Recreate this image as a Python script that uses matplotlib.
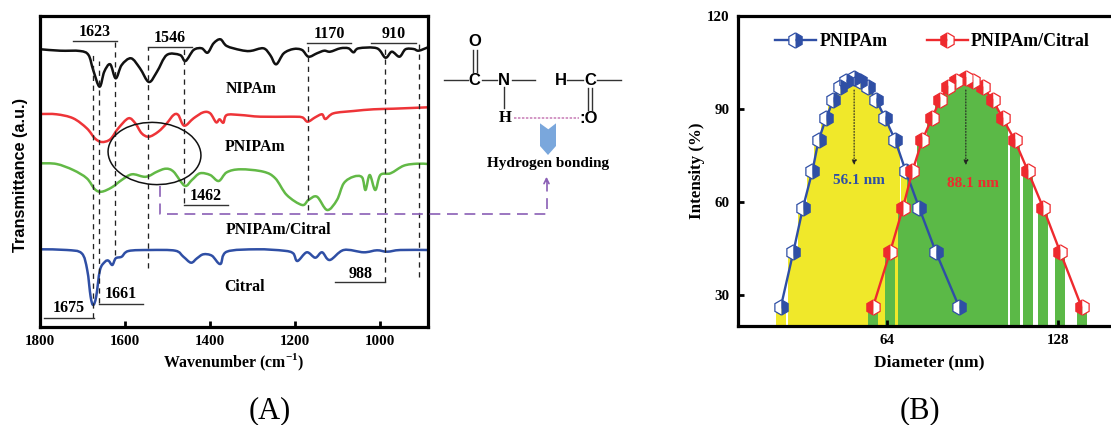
"""
FTIR spectra and size distribution panels, NIPAm / PNIPAm / Citral
"""
import matplotlib
matplotlib.use('Agg')
import matplotlib.pyplot as plt
from matplotlib.patches import Ellipse, PathPatch, Polygon
from matplotlib.path import Path
from matplotlib.ticker import NullLocator, ScalarFormatter

W, H = 1111, 425
SERIF = 'Liberation Serif'
SANS = 'Liberation Sans'

plt.rcParams['font.family'] = SERIF
plt.rcParams['font.weight'] = 'bold'
plt.rcParams['mathtext.fontset'] = 'custom'
plt.rcParams['mathtext.bf'] = 'Liberation Serif:bold'

# panel A, wavenumber / relative transmittance
black_wn = [1798, 1753, 1706, 1686, 1675, 1660, 1649, 1635, 1622, 1608, 1586, 1565, 1544, 1525, 1502, 1471,
            1458, 1439, 1420, 1406, 1392, 1376, 1361, 1329, 1306, 1275, 1259, 1245, 1227, 1204, 1184, 1169,
            1149, 1132, 1118, 1094, 1075, 1063, 1051, 1008, 988, 973, 955, 941, 922, 910, 888]
black_t = [277.7, 276.3, 276, 272, 257, 240.3, 255.3, 262.7, 248.7, 262, 268.7, 258.7, 245, 255.3, 272, 272,
           266, 277, 278.7, 274.3, 283.7, 287.7, 281, 277, 276, 278.7, 272, 262.7, 273.7, 278, 277, 270.3,
           273.7, 276.3, 275.3, 278.7, 278.7, 274.7, 278.7, 278.7, 269.3, 275.3, 270.3, 277.7, 278, 276.3, 279.7]

red_wn = [1798, 1761, 1722, 1690, 1671, 1655, 1635, 1616, 1592, 1576, 1561, 1544, 1522, 1502, 1486, 1475,
          1461, 1439, 1416, 1400, 1386, 1378, 1369, 1361, 1329, 1282, 1212, 1184, 1171, 1153, 1137, 1129,
          1110, 1063, 1016, 969, 888]
red_t = [213, 212.7, 208.7, 198.7, 188.7, 185, 187.7, 198.7, 208.7, 203.7, 193.7, 190.3, 195.3, 203.7, 212, 212,
         201.3, 208.7, 214.7, 213.7, 204.7, 207.7, 204.3, 212, 212, 210.3, 210.3, 209.7, 205.3, 209.7, 212.7, 208,
         213.7, 216, 217.7, 218.3, 219.7]

green_wn = [1798, 1761, 1722, 1690, 1671, 1655, 1631, 1608, 1584, 1557, 1544, 1525, 1504, 1486, 1460, 1443,
            1424, 1400, 1380, 1361, 1329, 1275, 1247, 1220, 1184, 1169, 1149, 1125, 1102, 1086, 1063, 1043,
            1035, 1025, 1012, 1000, 976, 945, 914, 888]
green_t = [163.7, 163, 157, 148.7, 137.7, 135.3, 139.7, 147, 152.7, 150.3, 151, 155.3, 158.3, 155.3, 141.3, 147,
           153.7, 152, 146, 154.7, 157.7, 155.3, 148.7, 132, 122, 127, 130.3, 117, 127, 143.7, 150.3, 149.7,
           137, 152, 137, 152, 153.7, 161.3, 163.3, 163]

blue_wn = [1798, 1737, 1702, 1689, 1681, 1675, 1668, 1659, 1647, 1639, 1630, 1622, 1608, 1592, 1541, 1482,
           1463, 1445, 1431, 1416, 1396, 1376, 1361, 1290, 1227, 1205, 1195, 1173, 1153, 1137, 1119, 1086,
           1039, 1008, 984, 953, 888]
blue_t = [77.7, 77, 73.7, 57, 30.3, 22, 30.3, 57, 65.3, 66.3, 62, 68.7, 70.3, 76, 77, 76.3,
          70.3, 64.3, 68.7, 72.7, 71.3, 63, 75.3, 77.7, 76.3, 73.7, 66, 74.7, 69.3, 74.7, 67, 77,
          74.7, 76.7, 75.3, 77, 77]

peak_wn = [1675, 1661, 1623, 1546, 1462, 1170, 988, 910]
peak_top = [274, 266, 285, 280, 280, 284, 279, 284]
peak_bottom = [9, 24, 72, 59, 124, 117, 45, 50]

# label, bracket start, bracket end, bracket height, label centre height
bracket_labels = ['1623', '1546', '1170', '910', '1462', '988', '1661', '1675']
bracket_from = [1722, 1546, 1172, 1022, 1462, 1106, 1661, 1790]
bracket_to = [1620, 1443, 1068, 917, 1358, 988, 1558, 1674]
bracket_y = [286, 280, 284, 284, 122, 45, 23.5, 9]
label_y = [295, 289, 293, 293, 131, 53, 32.5, 19]

# panel B, diameter (nm) / intensity (%)
pnipam_d = [41.7, 43.9, 45.6, 47.4, 48.6, 50.1, 51.6, 53.0, 54.3, 56.1, 57.5, 59.4, 61.3, 63.6, 66.2, 69.1, 73.0, 78.0, 85.8]
citral_d = [60.5, 64.9, 68.3, 71.0, 73.9, 76.8, 79.4, 82.1, 84.7, 88.1, 90.8, 94.3, 98.2, 102.2, 107.3, 113.2, 120.5, 128.9, 140.7]
intensity = [26, 44, 58, 70, 80, 87, 93, 97, 99, 100, 99, 97, 93, 87, 80, 70, 58, 44, 26]


def axes_at(fig, left, top, right, bottom):
    """Axes placed by pixel edges, y counted from the top of the image"""
    return fig.add_axes([left / W, 1 - bottom / H, (right - left) / W, (bottom - top) / H])


def style_frame(ax):
    for spine in ax.spines.values():
        spine.set_linewidth(2.3)
    ax.tick_params(axis='both', direction='in', width=2, length=4.5, labelsize=10.8, pad=6)
    for lab in ax.get_xticklabels() + ax.get_yticklabels():
        lab.set_fontweight('bold')


def add_spectrum(ax, xs, ys, color):
    """Draw a trace as a bezier path through the read points, the spectra are not polygons"""
    verts = [(xs[0], ys[0])]
    codes = [Path.MOVETO]
    for i in range(len(xs) - 1):
        p0 = max(i - 1, 0)
        p3 = min(i + 2, len(xs) - 1)
        verts.append((xs[i] + (xs[i + 1] - xs[p0]) / 6, ys[i] + (ys[i + 1] - ys[p0]) / 6))
        verts.append((xs[i + 1] - (xs[p3] - xs[i]) / 6, ys[i + 1] - (ys[p3] - ys[i]) / 6))
        verts.append((xs[i + 1], ys[i + 1]))
        codes += [Path.CURVE4, Path.CURVE4, Path.CURVE4]
    ax.add_patch(PathPatch(Path(verts, codes), fill=False, ec=color, lw=1.8, joinstyle='round', capstyle='round'))


def plot_spectra(ax):
    add_spectrum(ax, black_wn, black_t, '#111111')
    add_spectrum(ax, red_wn, red_t, '#ee3438')
    add_spectrum(ax, green_wn, green_t, '#62b946')
    add_spectrum(ax, blue_wn, blue_t, '#2f4fa5')

    ax.vlines(peak_wn, peak_bottom, peak_top, color='#222222', lw=0.95, linestyles=(0, (4, 3.5)))

    for name, x0, x1, yb, yl in zip(bracket_labels, bracket_from, bracket_to, bracket_y, label_y):
        ax.plot([x0, x1], [yb, yb], color='#333333', lw=1)
        ax.text((x0 + x1) / 2, yl, name, ha='center', va='center', fontsize=11.5, fontweight='bold')

    ax.text(1304, 237.7, 'NIPAm', ha='center', va='center', fontsize=11.4, fontweight='bold')
    ax.text(1294, 180.3, 'PNIPAm', ha='center', va='center', fontsize=11.4, fontweight='bold')
    ax.text(1239, 97, 'PNIPAm/Citral', ha='center', va='center', fontsize=11.4, fontweight='bold')
    ax.text(1320, 39.7, 'Citral', ha='center', va='center', fontsize=11.4, fontweight='bold')

    ax.set_xlim(1800, 888)
    ax.set_ylim(0, 311)
    ax.set_xticks([1800, 1600, 1400, 1200, 1000])
    ax.set_yticks([])
    ax.set_xlabel('Wavenumber (cm$^{\\mathbf{-1}}$)', fontsize=11.4, fontweight='bold', labelpad=2.5)
    ax.set_ylabel('Transmittance (a.u.)', fontsize=11.7, fontweight='bold', family=SANS)
    ax.yaxis.set_label_coords(-0.031, 0.489)
    style_frame(ax)


def plot_sizes(ax):
    ax.set_xscale('log', base=2)
    half = 2 ** (5 / 171.6)

    ax.bar([d / half for d in pnipam_d], intensity, width=[d * half - d / half for d in pnipam_d],
           align='edge', color='#f0e82a', linewidth=0)
    ax.bar([d / half for d in citral_d], intensity, width=[d * half - d / half for d in citral_d],
           align='edge', color='#5bb947', linewidth=0)

    ax.plot(pnipam_d, intensity, color='#2f4fa5', lw=1.7, marker='h', ms=11, fillstyle='left',
            mfc='white', mfcalt='#2f4fa5', mec='#2f4fa5', mew=0.9, label='PNIPAm')
    ax.plot(citral_d, intensity, color='#ee2a2e', lw=1.7, marker='h', ms=11, fillstyle='left',
            mfc='#ee2a2e', mfcalt='white', mec='#ee2a2e', mew=0.9, label='PNIPAm/Citral')

    for d, color, name, tx, ty in [(56.1, '#2f4fa5', '56.1 nm', 57.1, 66.8),
                                   (88.1, '#ee2a2e', '88.1 nm', 90.7, 66.1)]:
        ax.annotate('', xy=(d, 71), xytext=(d, 97),
                    arrowprops=dict(arrowstyle='-|>', color='#222222', lw=0.8, ls=':', mutation_scale=7))
        ax.text(tx, ty, name, color=color, ha='center', va='center', fontsize=11, fontweight='bold')

    ax.set_xlim(35.05, 161.6)
    ax.set_ylim(20, 120)
    ax.set_xticks([64, 128])
    ax.xaxis.set_major_formatter(ScalarFormatter())
    ax.xaxis.set_minor_locator(NullLocator())
    ax.set_yticks([30, 60, 90, 120])
    ax.set_xlabel('Diameter (nm)', fontsize=12.6, fontweight='bold', labelpad=5, x=0.5065)
    ax.set_ylabel('Intensity (%)', fontsize=12.2, fontweight='bold', labelpad=1.5)
    style_frame(ax)
    ax.legend(loc='upper left', bbox_to_anchor=(0.098, 0.945), ncol=2, frameon=False, fontsize=12.9,
              handlelength=2.29, handletextpad=0.2, columnspacing=2.18, borderpad=0, borderaxespad=0)


def draw_overlay(ov):
    """Scheme, ellipse and panel letters, in image pixels"""
    ov.set_xlim(0, W)
    ov.set_ylim(H, 0)
    ov.axis('off')

    ov.add_patch(Ellipse((154.5, 153.5), 93, 62, angle=4, fill=False, ec='#111111', lw=1.1))

    purple = '#8a5fb5'
    ov.plot([160, 160, 546.5, 546.5], [186, 214.3, 214.3, 178], color=purple, lw=1.2, ls=(0, (6.5, 4)))
    ov.annotate('', xy=(546.5, 174), xytext=(546.5, 184),
                arrowprops=dict(arrowstyle='->', color=purple, lw=1.2, mutation_scale=9))

    gray = '#333333'
    for x0, y0, x1, y1 in [(444, 80, 467.5, 80), (482, 80, 497, 80), (512, 80, 534.5, 80),
                           (504.3, 87, 504.3, 108), (472.7, 49.5, 472.7, 71.5), (476.7, 49.5, 476.7, 71.5),
                           (566.7, 80, 583.3, 80), (597.3, 80, 620.7, 80),
                           (587.7, 88, 587.7, 110), (592.3, 88, 592.3, 110)]:
        ov.plot([x0, x1], [y0, y1], color=gray, lw=1)

    for x, y, s in [(475, 41.7, 'O'), (474.3, 80, 'C'), (504.3, 80, 'N'), (560.7, 80, 'H'), (590, 80, 'C')]:
        ov.text(x, y, s, ha='center', va='center', fontsize=12, fontweight='bold', family=SANS)
    ov.text(505, 117.7, 'H', ha='center', va='center', fontsize=12, fontweight='bold')
    ov.text(589, 118, ':O', ha='center', va='center', fontsize=12, fontweight='bold', family=SANS)

    ov.plot([513.5, 579], [118.3, 118.3], color='#c77bb5', lw=1.1, ls=(0, (1.6, 1)))
    ov.add_patch(Polygon([(540, 123.3), (548.3, 129.3), (556, 123.3), (556, 146), (548, 155), (540, 146)],
                         closed=True, fc='#7aa7dc', ec='none'))
    ov.text(547.7, 163.3, 'Hydrogen bonding', ha='center', va='center', fontsize=11, fontweight='bold')

    ov.text(270, 411, '(A)', ha='center', va='center', fontsize=22, fontweight='normal')
    ov.text(920, 411, '(B)', ha='center', va='center', fontsize=22, fontweight='normal')


def main():
    fig = plt.figure(figsize=(W / 100, H / 100), dpi=100, facecolor='white')

    plot_spectra(axes_at(fig, 40, 16, 428, 327))
    plot_sizes(axes_at(fig, 737.7, 16, 1116, 326))

    ov = fig.add_axes([0, 0, 1, 1], facecolor='none')
    draw_overlay(ov)

    plt.savefig('out.png', dpi=100)
    plt.close()


if __name__ == "__main__":
    main()
